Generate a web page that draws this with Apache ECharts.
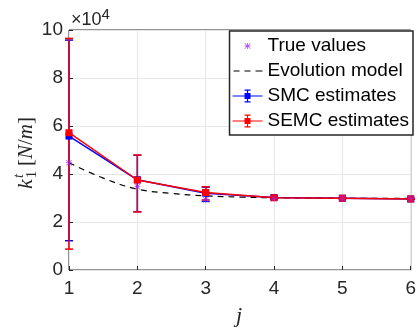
<!DOCTYPE html>
<html>
<head>
<meta charset="utf-8">
<script src="https://cdn.jsdelivr.net/npm/echarts@6/dist/echarts.min.js"></script>
<style>
  html, body { margin: 0; padding: 0; background: #fff; }
  #chart { width: 419px; height: 335px; }
</style>
</head>
<body>
<div id="chart"></div>
<script>
// stage index j
const stages = [1, 2, 3, 4, 5, 6]
const trueValues = [44700, 34700, 29300, 29800, 29900, 29700]

// evolution model curve, read at a few points along j
const evoJ = [1, 1.5, 2, 2.5, 3, 3.5, 4, 5, 6]
const evoValues = [44700, 38300, 33700, 31900, 30900, 30400, 30100, 29900, 29800]

const smcMean = [55800, 37600, 32000, 30200, 29900, 29600]
const smcLow = [12200, 24300, 28600, 29700, 29700, 29400]
const smcHigh = [95800, 47800, 34500, 30700, 30100, 29800]

const semcMean = [57200, 37500, 32300, 30100, 29900, 29600]
const semcLow = [8700, 24200, 29200, 29800, 29800, 29500]
const semcHigh = [96500, 47900, 34700, 30500, 30100, 29800]

const font = 'Liberation Sans, Arial, sans-serif'
const serif = 'Liberation Serif, DejaVu Serif, serif'
const blue = '#0000ff'
const red = '#ff0000'
const purple = '#a020f0'

const starPath = 'path://M4.4,0h1.2v10h-1.2z M0,4.4h10v1.2H0z M0.8,0L10,9.2L9.2,10L0,0.8z M9.2,0L10,0.8L0.8,10L0,9.2z'
const box = 'M0,0h0.01v0.01H0z M29.99,15.99h0.01v0.01h-0.01z '
const iconStar = 'path://' + box + 'M14.6,5h0.8v6h-0.8z M12,7.6h6v0.8h-6z M12.4,5L18,10.6L17.6,11L12,5.4z M17.6,5L18,5.4L12.4,11L12,10.6z'
const iconDash = 'path://' + box + 'M1,7.4h6v1.2H1z M12,7.4h6v1.2h-6z M23,7.4h7v1.2h-7z'
const iconErr = 'path://' + box + 'M0,7.4h30v1.2H0z M14.4,1.5h1.2v13h-1.2z M12,1.5h6v1.2h-6z M12,13.3h6v1.2h-6z M12,5h6v6h-6z'

function errorSeries(name, color, low, high) {
  return {
    name: name,
    type: 'custom',
    data: stages.map((j, i) => [j, low[i], high[i]]),
    itemStyle: { color: color },
    z: 3,
    renderItem: function (params, api) {
      const j = api.value(0)
      const top = api.coord([j, api.value(2)])
      const bot = api.coord([j, api.value(1)])
      const st = { stroke: color, lineWidth: 1.5 }
      return {
        type: 'group',
        children: [
          { type: 'line', shape: { x1: top[0], y1: top[1], x2: bot[0], y2: bot[1] }, style: st },
          { type: 'line', shape: { x1: top[0] - 4, y1: top[1], x2: top[0] + 4, y2: top[1] }, style: st },
          { type: 'line', shape: { x1: bot[0] - 4, y1: bot[1], x2: bot[0] + 4, y2: bot[1] }, style: st }
        ]
      }
    }
  }
}

const chart = echarts.init(document.getElementById('chart'))
const option = {
  animation: false,
  backgroundColor: '#fff',
  grid: {
    left: 69, right: 6, top: 30, bottom: 65,
    show: true, borderColor: '#262626', borderWidth: 1
  },
  xAxis: {
    type: 'value', min: 1, max: 6, interval: 1,
    axisLine: { show: false },
    axisTick: { inside: true, length: 4, lineStyle: { color: '#262626' } },
    axisLabel: { fontFamily: font, fontSize: 19, color: '#262626', margin: 9 },
    splitLine: { lineStyle: { color: '#e6e6e6', width: 1 } }
  },
  yAxis: {
    type: 'value', min: 0, max: 100000, interval: 20000,
    axisLine: { show: false },
    axisTick: { show: true, inside: true, length: 4, lineStyle: { color: '#262626' } },
    axisLabel: {
      fontFamily: font, fontSize: 19, color: '#262626', margin: 6,
      formatter: v => String(v / 10000)
    },
    splitLine: { lineStyle: { color: '#e6e6e6', width: 1 } }
  },
  legend: {
    orient: 'vertical', right: 6, top: 31,
    padding: [5, 4, 4, 3],
    backgroundColor: '#fff',
    borderColor: '#262626', borderWidth: 1.5,
    itemWidth: 30, itemHeight: 16, itemGap: 5,
    textStyle: { fontFamily: font, fontSize: 19, color: '#000', lineHeight: 20 },
    itemStyle: { borderWidth: 0 },
    lineStyle: { width: 0 },
    data: [
      { name: 'True values', icon: iconStar },
      { name: 'Evolution model', icon: iconDash },
      { name: 'SMC estimates', icon: iconErr },
      { name: 'SEMC estimates', icon: iconErr }
    ]
  },
  graphic: [
    {
      type: 'text', left: 71, top: 7,
      style: {
        text: '×10{s|4}',
        fontFamily: font, fontSize: 18, fill: '#262626',
        rich: { s: { fontFamily: font, fontSize: 15, fill: '#262626', verticalAlign: 'top', padding: [0, 0, 12, 0] } }
      }
    },
    {
      type: 'group', x: 26, y: 189, rotation: Math.PI / 2,
      children: [
        { type: 'text', x: 0, y: 0, style: { text: 'k', fontFamily: serif, fontStyle: 'italic', fontSize: 22, fill: '#262626', verticalAlign: 'middle' } },
        { type: 'text', x: 11, y: -7, style: { text: 't', fontFamily: serif, fontStyle: 'italic', fontSize: 14, fill: '#262626', verticalAlign: 'middle' } },
        { type: 'text', x: 11, y: 6, style: { text: '1', fontFamily: serif, fontSize: 14, fill: '#262626', verticalAlign: 'middle' } },
        {
          type: 'text', x: 23, y: 0,
          style: {
            text: '[{i|N}/{i|m}]', fontFamily: serif, fontSize: 21, fill: '#262626', verticalAlign: 'middle',
            rich: { i: { fontFamily: serif, fontStyle: 'italic', fontSize: 21, fill: '#262626' } }
          }
        }
      ]
    },
    {
      type: 'text', left: 236, top: 305,
      style: { text: 'j', fontFamily: serif, fontStyle: 'italic', fontSize: 22, fill: '#262626' }
    }
  ],
  series: [
    {
      name: 'Evolution model', type: 'line', smooth: 0.4,
      data: evoJ.map((j, i) => [j, evoValues[i]]),
      showSymbol: false, symbol: 'none',
      itemStyle: { color: '#000' },
      lineStyle: { color: '#000', width: 1.2, type: [6, 5] },
      z: 2
    },
    errorSeries('SMC estimates', blue, smcLow, smcHigh),
    {
      name: 'SMC estimates', type: 'line',
      data: stages.map((j, i) => [j, smcMean[i]]),
      symbol: 'rect', symbolSize: 7,
      itemStyle: { color: blue },
      lineStyle: { color: blue, width: 1.5 },
      z: 3
    },
    errorSeries('SEMC estimates', red, semcLow, semcHigh),
    {
      name: 'SEMC estimates', type: 'line',
      data: stages.map((j, i) => [j, semcMean[i]]),
      symbol: 'rect', symbolSize: 7,
      itemStyle: { color: red },
      lineStyle: { color: red, width: 1.5 },
      z: 4
    },
    {
      name: 'True values', type: 'scatter',
      data: stages.map((j, i) => [j, trueValues[i]]),
      symbol: starPath, symbolSize: 6,
      itemStyle: { color: purple },
      z: 5
    }
  ]
}
chart.setOption(option)
</script>
</body>
</html>
